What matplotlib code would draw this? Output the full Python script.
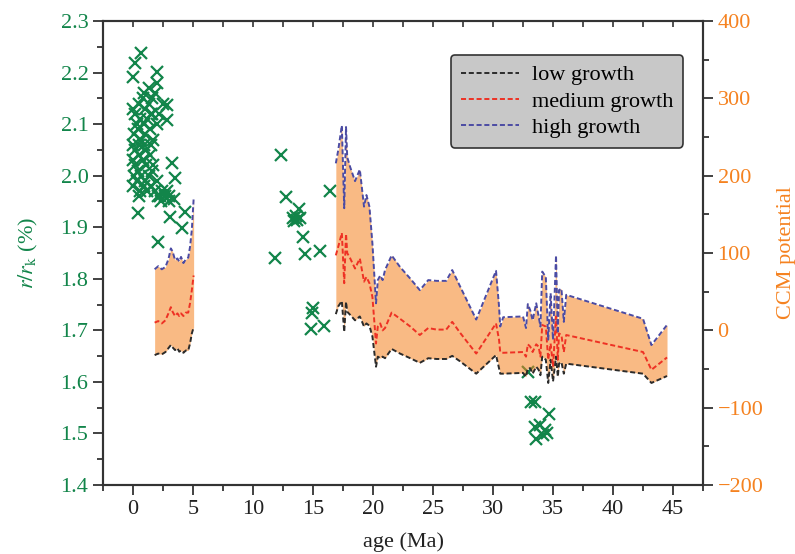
import matplotlib
matplotlib.use("Agg")
import matplotlib.pyplot as plt
from matplotlib.lines import Line2D
from matplotlib.ticker import MultipleLocator, NullFormatter

plt.rcParams['font.family'] = ['Liberation Serif', 'DejaVu Serif']
plt.rcParams['mathtext.fontset'] = 'stix'

# === r/rk measurements (left axis) ===
rk_age = [0.65, 0.15, 0.0, 2.0, 2.0, 2.8, 2.8, 3.25, 3.5, 4.3, 4.1, 0.4, 2.1, 3.1,
          2.25, 3.0, 3.4,
          0.0, 0.2, 0.5, 0.8, 1.0, 1.3, 1.6, 0.3, 0.6, 0.9, 1.2, 1.5, 1.8, 2.0,
          0.1, 0.4, 0.7, 1.0, 1.4, 1.7, 0.0, 0.5, 1.1, 1.5, 2.2, 2.5, 0.9, 1.3, 1.6,
          0.0, 0.2, 0.5, 0.8, 1.1, 1.4, 0.1, 0.4, 0.7, 1.0, 1.3, 1.6, 0.0, 0.3,
          0.6, 0.9, 1.2, 1.5, 1.8, 2.1, 2.4, 2.7, 3.0, 0.2, 0.9, 1.7, 2.0, 2.3,
          2.8, 0.5,
          12.3, 12.75, 16.4, 13.8, 13.3, 13.6, 13.9, 13.4, 13.7, 14.2, 11.8, 14.3,
          15.6, 15.0, 14.9, 14.8, 15.9,
          32.9, 33.2, 33.5, 34.7, 33.5, 33.9, 34.3, 34.2, 33.6, 34.5]
rk_val = [2.238, 2.218, 2.191, 2.201, 2.180, 2.137, 2.108, 2.025, 1.996, 1.930, 1.899, 1.928, 1.872, 1.920,
          1.960, 1.960, 1.955,
          2.13, 2.12, 2.14, 2.15, 2.13, 2.14, 2.15, 2.10, 2.11, 2.10, 2.11, 2.12, 2.16, 2.10,
          2.08, 2.09, 2.07, 2.08, 2.09, 2.07, 2.06, 2.06, 2.05, 2.06, 2.12, 2.14, 2.16, 2.17, 2.12,
          2.03, 2.02, 2.04, 2.03, 2.02, 2.04, 2.00, 2.01, 2.00, 1.99, 2.00, 2.01, 1.98, 1.99,
          1.97, 1.98, 1.97, 1.98, 1.97, 1.96, 1.97, 1.96, 1.95, 2.05, 2.06, 2.02, 1.99, 1.95,
          1.97, 1.96,
          2.040, 1.958, 1.971, 1.935, 1.918, 1.922, 1.918, 1.912, 1.914, 1.882, 1.840, 1.848,
          1.854, 1.744, 1.734, 1.702, 1.709,
          1.620, 1.562, 1.562, 1.538, 1.512, 1.517, 1.507, 1.497, 1.489, 1.500]

# === CCM potential (right axis), two age windows ===
ccm_age_a = [1.8, 2.1, 2.4, 2.7, 2.95, 3.15, 3.3, 3.5, 3.7, 3.85, 4.0, 4.2, 4.4, 4.6, 4.75, 4.9, 5.05]
high_a = [79, 83, 79, 82, 92, 106, 102, 91, 93, 89, 95, 87, 92, 94, 108, 130, 170]
med_a = [10, 12, 9, 13, 22, 30, 24, 18.5, 22, 18.5, 22, 18.5, 23, 23, 35, 52, 71]
low_a = [-32, -30, -31, -28, -23, -19, -22, -25.5, -23, -27.6, -26, -29, -26, -26, -17, -4, 4]

ccm_age_b = [16.9, 17.1, 17.4, 17.6, 17.75, 17.85, 18.1, 18.5, 18.9, 19.25, 19.45, 19.7, 19.95,
             20.25, 20.4, 20.6, 20.8, 21.0, 21.55, 22.25, 23.1, 23.9, 24.6, 25.3, 26.1, 26.6,
             27.25, 28.6, 30.25, 30.5, 30.6, 30.85, 32.5, 32.75, 32.9, 33.1, 33.3, 33.6, 33.8,
             33.95, 34.1, 34.4, 34.6, 34.8, 35.0, 35.25, 35.4, 35.5, 35.7, 35.9, 36.1, 42.5,
             43.2, 44.5]
high_b = [216, 233, 265, 158, 263, 224, 211, 193, 208, 160, 175, 160, 112,
          35, 65, 71, 65, 78, 97, 82, 67, 52, 65, 64, 64, 78,
          57, 14, 77, 31, 5, 17, 18, 3, 34, 26, 13, 35, 18,
          5, 76, 69, -12, 48, -12, 97, -4, 52, 54, 11, 46, 15,
          -19, 7]
med_b = [97, 108, 126, 61, 125, 100, 93, 80, 93, 63, 69, 61, 43,
         -17, 5, 9, 0, 3, 23, 15, 5, -6, 3, 1, 1, 11,
         -3, -30, 9, -12, -28, -29, -28, -34, -18, -21, -28, -18, -21,
         -34, 7, 5, -38, -17, -47, 18, -38, -4, -6, -28, -6, -28,
         -51, -35]
low_b = [21, 31, 38, -2, 37, 24, 20, 13, 18, 5, 9, 6, -8,
         -47, -34, -36, -34, -36, -24, -30, -36, -42, -36, -37, -37, -33,
         -40, -56, -32, -49, -56, -56, -55, -60, -49, -49, -56, -47, -51,
         -58, -34, -38, -68, -38, -66, -34, -60, -43, -41, -56, -43, -56,
         -68, -59]

green = '#12854a'
orange = '#f58220'

fig = plt.figure(figsize=(7.95, 5.54), dpi=100)
ax1 = fig.add_axes([0.1296, 0.1245, 0.7547, 0.8375])
ax2 = ax1.twinx()

# === r/rk scatter ===
ax1.plot(rk_age, rk_val, linestyle='none', marker='x', color=green, markersize=9, markeredgewidth=1.6)

# === CCM band + lines ===
dash = (2.6, 1.4)
for ages, lo, me, hi in [(ccm_age_a, low_a, med_a, high_a), (ccm_age_b, low_b, med_b, high_b)]:
    ax2.fill_between(ages, lo, hi, color=orange, alpha=0.55, linewidth=0)
    ax2.plot(ages, lo, color='#2b2b2b', lw=1.4, dashes=dash)
    ax2.plot(ages, me, color='#ee3124', lw=1.4, dashes=dash)
    ax2.plot(ages, hi, color='#4b4ba3', lw=1.4, dashes=dash)

ax1.set_xlim(-2.5, 47.5)
ax1.set_ylim(1.4, 2.3)
ax2.set_ylim(-200, 400)

ax1.xaxis.set_major_locator(MultipleLocator(5))
ax1.xaxis.set_minor_locator(MultipleLocator(2.5))
ax1.yaxis.set_major_locator(MultipleLocator(0.1))
ax1.yaxis.set_minor_locator(MultipleLocator(0.05))
ax2.yaxis.set_major_locator(MultipleLocator(100))
ax2.yaxis.set_minor_locator(MultipleLocator(50))
ax1.yaxis.set_major_formatter(plt.FormatStrFormatter('%.1f'))
ax2.yaxis.set_major_formatter(plt.FuncFormatter(lambda v, p: ('\u2212%d' % -v) if v < 0 else '%d' % v))

# top spine: small inward ticks, no labels
top = ax1.secondary_xaxis('top')
top.xaxis.set_major_locator(MultipleLocator(2.5))
top.xaxis.set_major_formatter(NullFormatter())
top.tick_params(axis='x', direction='in', length=4, width=1.2, colors='#333333')
top.spines['top'].set_visible(False)

fs = 16
for ax in (ax1, ax2):
    for sp in ax.spines.values():
        sp.set_color('#333333')
        sp.set_linewidth(1.5)
ax1.tick_params(axis='x', which='both', direction='out', labelsize=fs, colors='#333333', labelcolor='#222222', width=1.3)
ax1.tick_params(axis='x', which='major', length=7)
ax1.tick_params(axis='x', which='minor', length=4)
ax1.tick_params(axis='y', which='both', direction='out', labelsize=fs, colors='#333333', labelcolor=green, width=1.3)
ax1.tick_params(axis='y', which='major', length=7)
ax1.tick_params(axis='y', which='minor', length=4)
ax2.tick_params(axis='y', which='both', direction='out', labelsize=fs, colors='#333333', labelcolor=orange, width=1.3)
ax2.tick_params(axis='y', which='major', length=7)
ax2.tick_params(axis='y', which='minor', length=4)

ax1.set_xlabel('age (Ma)', fontsize=fs, color='#222222', labelpad=10)
ax1.set_ylabel(r'$r/r_\mathrm{k}$ (%)', fontsize=fs, color=green, labelpad=15)
ax2.set_ylabel('CCM potential', fontsize=fs, color=orange, labelpad=10)

handles = [Line2D([], [], color='#2b2b2b', lw=1.4, dashes=dash),
           Line2D([], [], color='#ee3124', lw=1.4, dashes=dash),
           Line2D([], [], color='#4b4ba3', lw=1.4, dashes=dash)]
leg = ax2.legend(handles, ['low growth', 'medium growth', 'high growth'],
                 loc='upper right', bbox_to_anchor=(0.967, 0.927), borderaxespad=0,
                 fontsize=fs, fancybox=True, framealpha=1, facecolor='#c8c8c8',
                 edgecolor='#333333', handlelength=2.6, labelspacing=0.25,
                 borderpad=0.45, handletextpad=0.6)
leg.get_frame().set_linewidth(1.2)

fig.savefig('out.png', dpi=100)
